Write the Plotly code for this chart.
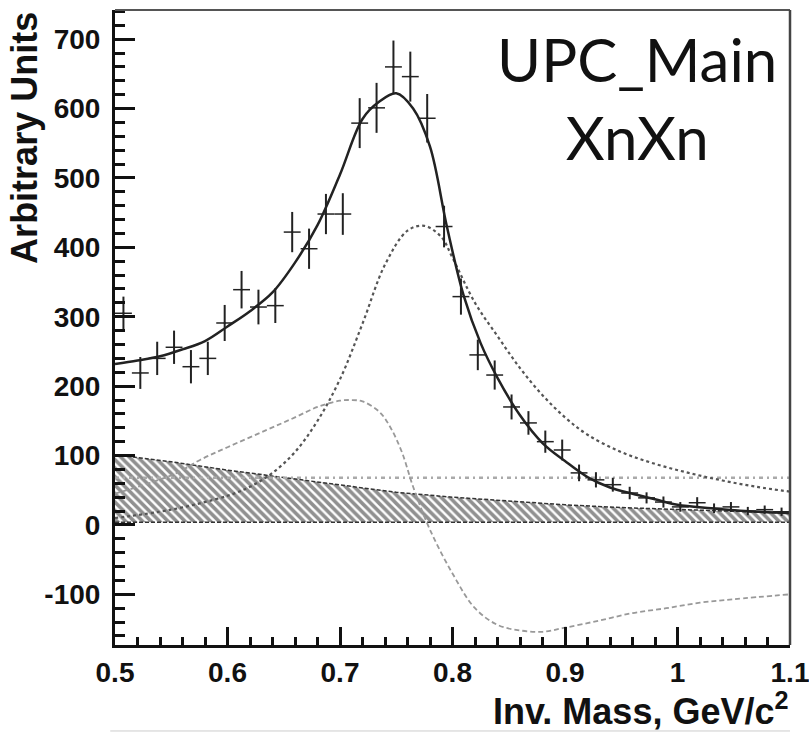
import plotly.graph_objects as go

# Measured invariant-mass spectrum (bin centres, counts, statistical errors)
mass_bins = [0.5075, 0.5225, 0.5375, 0.5525, 0.5675, 0.5825, 0.5975, 0.6125,
             0.6275, 0.6425, 0.6575, 0.6725, 0.6875, 0.7025, 0.7175, 0.7325,
             0.7475, 0.7625, 0.7775, 0.7925, 0.8075, 0.8225, 0.8375, 0.8525,
             0.8675, 0.8825, 0.8975, 0.9125, 0.9275, 0.9425, 0.9575, 0.9725,
             0.9875, 1.0025, 1.0175, 1.0325, 1.0475, 1.0625, 1.0775, 1.0925]
counts = [305, 219, 240, 256, 228, 240, 291, 339, 314, 316,
          422, 398, 448, 448, 579, 601, 660, 646, 586, 430,
          329, 245, 216, 170, 147, 120, 108, 75, 65, 58,
          46, 39, 33, 26, 32, 24, 26, 20, 22, 19]
count_err = [24, 23, 24, 24, 24, 24, 26, 27, 25, 25,
             29, 29, 29, 30, 36, 36, 38, 36, 35, 30,
             26, 22, 21, 18, 17, 16, 15, 12, 11, 10,
             9, 8, 8, 7, 8, 7, 7, 6, 6, 6]
half_bin = 0.0075

# Total fit
fit_mass = [0.50, 0.52, 0.54, 0.56, 0.58, 0.60, 0.62, 0.64, 0.66, 0.68, 0.70,
            0.72, 0.735, 0.75, 0.765, 0.78, 0.795, 0.81, 0.825, 0.84, 0.86,
            0.88, 0.90, 0.92, 0.94, 0.96, 0.98, 1.00, 1.03, 1.06, 1.10]
fit_total = [232, 237, 243, 253, 265, 286, 308, 335, 378, 432, 505,
             585, 610, 622, 600, 545, 430, 330, 262, 212, 158,
             118, 92, 69, 54, 45, 37, 29, 24, 20, 17]

# Breit-Wigner rho component
rho_mass = [0.50, 0.55, 0.60, 0.62, 0.64, 0.66, 0.68, 0.70, 0.72, 0.74, 0.76,
            0.775, 0.79, 0.80, 0.82, 0.84, 0.86, 0.88, 0.90, 0.92, 0.95,
            0.98, 1.01, 1.04, 1.07, 1.10]
rho_bw = [10, 22, 42, 55, 75, 105, 150, 210, 290, 375, 424,
          431, 415, 385, 320, 272, 226, 187, 155, 130, 105,
          88, 75, 64, 55, 48]

# Interference term
int_mass = [0.50, 0.53, 0.555, 0.576, 0.60, 0.635, 0.66, 0.68, 0.70, 0.71,
            0.72, 0.735, 0.745, 0.755, 0.765, 0.78, 0.80, 0.82, 0.84, 0.86,
            0.88, 0.90, 0.93, 0.96, 0.99, 1.02, 1.05, 1.10]
interference = [45, 60, 75, 94, 112, 137, 155, 170, 179, 180,
                178, 163, 140, 105, 55, -7, -70, -120, -144, -152,
                -154, -148, -138, -127, -120, -112, -107, -100]

# Direct (non-resonant) pi+pi- term
direct_mass = [0.50, 1.10]
direct_level = [68, 68]

# Background band
band_mass = [0.50, 0.55, 0.60, 0.65, 0.70, 0.75, 0.80, 0.85, 0.90, 0.95, 1.00, 1.05, 1.10]
band_upper = [101, 91, 79, 68, 58, 47, 40, 34, 29, 25, 22, 19, 17]
band_lower = [4, 4, 4, 4, 4, 4, 4, 4, 4, 4, 4, 4, 4]

x_ticks = [0.5, 0.6, 0.7, 0.8, 0.9, 1.0, 1.1]
x_tick_text = ["0.5", "0.6", "0.7", "0.8", "0.9", "1", "1.1"]
y_ticks = [-100, 0, 100, 200, 300, 400, 500, 600, 700]
y_tick_text = ["-100", "0", "100", "200", "300", "400", "500", "600", "700"]

fig = go.Figure()

# hatched background band
fig.add_trace(go.Scatter(x=band_mass, y=band_lower, mode="lines",
                         line=dict(color="#333", width=1.5, dash="4px,2px"),
                         showlegend=False, hoverinfo="skip"))
fig.add_trace(go.Scatter(x=band_mass, y=band_upper, mode="lines", fill="tonexty",
                         fillcolor="rgba(0,0,0,0)",
                         fillpattern=dict(shape="\\", size=6, solidity=0.6,
                                          fgcolor="#222", bgcolor="rgba(0,0,0,0)"),
                         line=dict(color="#333", width=1.5, dash="4px,2px"),
                         showlegend=False, hoverinfo="skip"))

fig.add_trace(go.Scatter(x=direct_mass, y=direct_level, mode="lines",
                         line=dict(color="#aaa", width=2.5, dash="4px,4px,2px,4px"),
                         showlegend=False))
fig.add_trace(go.Scatter(x=int_mass, y=interference, mode="lines", line_shape="spline",
                         line=dict(color="#999", width=1.8, dash="5px,3px"),
                         showlegend=False))
fig.add_trace(go.Scatter(x=rho_mass, y=rho_bw, mode="lines", line_shape="spline",
                         line=dict(color="#555", width=2.2, dash="3px,3px"),
                         showlegend=False))
fig.add_trace(go.Scatter(x=fit_mass, y=fit_total, mode="lines", line_shape="spline",
                         line=dict(color="#222", width=2.5),
                         showlegend=False))

fig.add_trace(go.Scatter(
    x=mass_bins, y=counts, mode="markers",
    marker=dict(size=2, color="#222"),
    error_x=dict(type="constant", value=half_bin, width=0, thickness=1.5, color="#222"),
    error_y=dict(type="data", array=count_err, width=0, thickness=2, color="#222"),
    showlegend=False))

tick_font = dict(family="Liberation Sans, Arial", size=28, color="#111", weight="bold")

fig.update_xaxes(range=[0.5, 1.1], tickvals=x_ticks, ticktext=x_tick_text,
                 ticks="inside", ticklen=18, tickwidth=2.5, tickcolor="#111",
                 minor=dict(dtick=0.02, ticks="inside", ticklen=8, tickwidth=2.5,
                            tickcolor="#111"),
                 showline=True, linewidth=3, linecolor="#111", mirror=False,
                 showgrid=False, zeroline=False, tickfont=tick_font,
                 ticklabeloverflow="allow", automargin=False)
fig.update_yaxes(range=[-173, 742], tickvals=y_ticks, ticktext=y_tick_text,
                 ticks="inside", ticklen=20, tickwidth=2.5, tickcolor="#111",
                 minor=dict(dtick=20, ticks="inside", ticklen=10, tickwidth=2.5,
                            tickcolor="#111"),
                 showline=True, linewidth=3, linecolor="#111", mirror=False,
                 showgrid=False, zeroline=False, tickfont=tick_font,
                 ticklabelstandoff=6, ticklabeloverflow="allow", automargin=False)

# top and right frame edges
fig.add_shape(type="line", xref="paper", yref="paper", x0=0, x1=1, y0=1, y1=1,
              line=dict(color="#555", width=2))
fig.add_shape(type="line", xref="paper", yref="paper", x0=1, x1=1, y0=0, y1=1,
              line=dict(color="#444", width=2.5))
fig.add_shape(type="line", xref="paper", yref="paper", x0=-0.007, x1=1.0,
              y0=-0.1354, y1=-0.1354, line=dict(color="#ccc", width=1))

title_font = dict(family="Liberation Sans, Arial", size=36, color="#111", weight="bold")
fig.add_annotation(text="Arbitrary Units", xref="paper", yref="paper",
                   x=-0.135, y=1.0, xanchor="center", yanchor="top", textangle=-90,
                   showarrow=False, font=title_font)
fig.add_annotation(text="Inv. Mass, GeV/c<sup>2</sup>", xref="paper", yref="paper",
                   x=1.0, y=-0.1, xanchor="right", yanchor="middle",
                   showarrow=False, font=title_font)
fig.add_annotation(text="UPC_Main<br>XnXn", xref="paper", yref="paper",
                   x=0.773, y=0.982, xanchor="center", yanchor="top", align="center",
                   showarrow=False,
                   font=dict(family="Lato", size=60, color="#111"))

fig.update_layout(width=809, height=733,
                  margin=dict(l=115, r=19, t=10, b=88, autoexpand=False),
                  paper_bgcolor="white", plot_bgcolor="white")

fig.write_html("out.html")
